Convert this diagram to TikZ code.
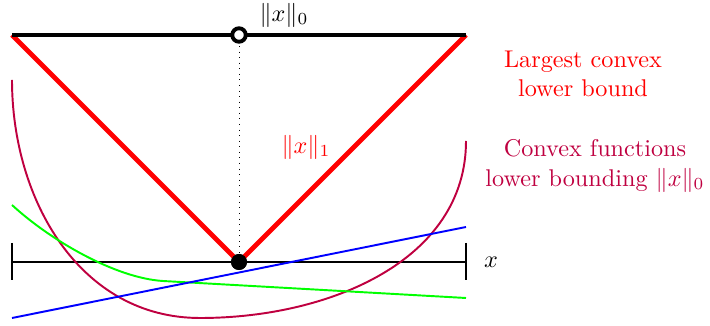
\documentclass[tikz,border=0pt]{standalone}
\begin{document}
\begin{tikzpicture}[x=0.413pt,y=-0.413pt,
  thinline/.style={line width=0.8pt},
  lbl/.style={inner sep=1pt},
  opendot/.style={circle,draw=black,fill=white,line width=1.6pt,minimum size=13.5pt*0.413,inner sep=0pt},
  fulldot/.style={circle,fill=black,minimum size=16pt*0.413,inner sep=0pt}]
\useasboundingbox (0,0) rectangle (710,326);
% key coordinates
\coordinate (lt) at (12,35);
\coordinate (rt) at (466,35);
\coordinate (al) at (12,262);
\coordinate (ar) at (466,262);
\coordinate (altop) at (12,243);
\coordinate (albot) at (12,280);
\coordinate (artop) at (466,243);
\coordinate (arbot) at (466,280);
% axis
\draw[line width=0.5pt] (al) -- (ar);
\draw[line width=0.5pt] (altop) -- (albot);
\draw[line width=0.5pt] (artop) -- (arbot);
\node[lbl] (xl) at (491,262) {$x$};
% curves
\coordinate (pa) at (12,80);
\coordinate (pm) at (200,318);
\coordinate (pb) at (466,141);
\draw[thinline,purple] (pa) .. controls (12,200) and (80,318) .. (pm)
  .. controls (330,318) and (466,260) .. (pb);
\coordinate (ga) at (12,205);
\coordinate (gk) at (163,281);
\coordinate (gb) at (466,298);
\draw[thinline,green] (ga) .. controls (50,240) and (115,278) .. (gk) -- (gb);
\coordinate (ba) at (12,318);
\coordinate (bb) at (466,227);
\draw[thinline,blue] (ba) -- (bb);
% dots and V
\node[fulldot] (o) at (239,262) {};
\draw[red,line width=2pt,line join=miter] (lt) -- (o.center) -- (rt);
\node[fulldot] at (239,262) {};
\draw[line width=1.6pt] (lt) -- (rt);
\node[opendot] (oc) at (239,35) {};
\draw[line width=0.4pt,dash pattern=on 0.4pt off 1.9pt] ([yshift=-11*0.413pt]oc.center) -- ([yshift=8*0.413pt]o.center);
% labels
\node[inner sep=0pt] (l0) at (284,15) {$\|x\|_0$};
\node[lbl,red] (l1) at (306,147) {$\|x\|_1$};
\node[lbl,red,align=center] (t1) at (583,74) {Largest convex\\lower bound};
\node[lbl,purple,align=center] (t2) at (595,166) {Convex functions\\lower bounding $\|x\|_0$};
\end{tikzpicture}
\end{document}
